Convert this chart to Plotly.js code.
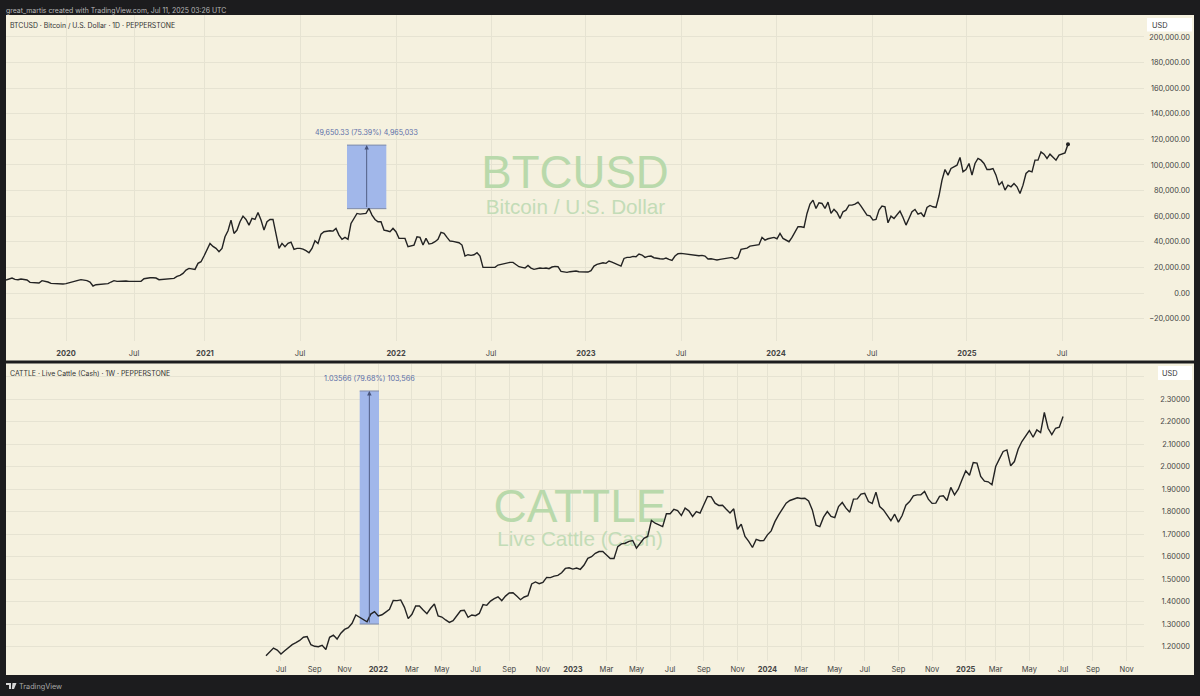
<!DOCTYPE html>
<html><head><meta charset="utf-8">
<script src="https://cdn.plot.ly/plotly-3.0.1.min.js"></script>
<style>html,body{margin:0;padding:0;background:#1c1c1e}#c{width:1200px;height:696px}</style>
</head><body><div id="c"></div>
<script>
// BTCUSD close, one reading per sample along the bar axis
const btcValues = [
10140,10900,11700,10660,10400,10900,10400,10140,8320,8060,
8060,7800,9620,9360,8580,7540,7280,7020,7020,7020,
7280,8060,8580,9360,9880,10400,10140,9620,8580,5460,
6500,6760,6760,7020,7280,8580,9620,9100,9360,9360,
9360,9100,9100,9100,9100,9100,11180,11700,11960,11960,
11700,10400,10660,10660,10900,10900,11440,12980,13800,15340,
17940,19240,19000,18460,23140,24440,28860,33540,38740,36400,
34840,32240,34840,43940,48620,56940,46540,49140,55640,60060,
57460,53040,58240,57460,62920,56940,49140,55640,57460,57460,
45240,34840,38740,36140,38740,39780,34060,34840,34840,34320,
33020,31460,34840,40820,38740,46020,47840,48340,48620,48340,
50440,45240,41860,43420,41860,54340,58240,62140,61620,62140,
62140,66040,60840,57460,55640,55640,49140,48620,47840,50440,
47840,42640,42640,42640,36140,36920,37440,43940,43420,37440,
42640,38220,38740,40040,41860,47320,46540,43420,40560,40300,
39520,39260,37440,28860,29900,29380,29900,31460,28860,20020,
20020,20020,20540,20020,21840,22360,23140,23140,23920,23920,
22100,20540,20020,19500,21580,19500,18460,19240,19500,19240,
19500,18980,20280,20800,20540,16900,16640,16120,16640,16900,
17160,16640,16640,16380,16380,17420,21060,22360,23140,23660,
23140,24960,24180,23140,22360,21060,27000,27820,27820,28600,
28340,30420,29640,27820,28600,28860,27560,27000,26780,26520,
27300,26260,25480,28860,30680,30940,30680,30420,29640,29380,
29120,29120,29380,28860,26520,26780,26260,25740,26260,26780,
27000,27300,27820,26520,27560,34060,34840,35100,36660,37180,
37440,37700,43420,41340,42380,42900,43420,42380,46540,42640,
41340,40040,43420,47060,51740,51740,51220,62140,69420,72540,
66040,70460,69940,66040,70980,62140,65260,62920,58240,63440,
64740,68640,68640,69420,70980,67860,64740,60840,60320,56940,
57460,64740,67860,67340,54860,60060,58240,60840,63960,59020,
53040,58240,63440,65260,61620,62660,59540,66820,68380,67340,
66820,75920,88140,96460,92040,97240,98540,99840,105820,94640,
96460,101140,92040,101140,105040,103740,101140,96460,96460,97240,
92040,84240,86840,80340,84240,82940,85540,82940,77740,84240,
93340,95420,94640,103740,103740,110240,108420,105040,108420,106340,
103740,107640,108420,109460,116220];
const btcTickPos = [20,42.67,66.33,98,130,161.67,193.33,225,256.67,288.67,320.33,352];
const btcTickText = ['<b>2020</b>','Jul','<b>2021</b>','Jul','<b>2022</b>','Jul','<b>2023</b>','Jul','<b>2024</b>','Jul','<b>2025</b>','Jul'];
const btcYTicks = [-20000,0,20000,40000,60000,80000,100000,120000,140000,160000,180000,200000];
const btcYText = ['\u221220,000.00','0.00','20,000.00','40,000.00','60,000.00','80,000.00','100,000.00','120,000.00','140,000.00','160,000.00','180,000.00','200,000.00'];

// CATTLE weekly close
const cattleValues = [
1.159,1.177,1.193,1.184,1.167,1.181,1.196,1.208,1.217,1.227,
1.241,1.244,1.208,1.201,1.199,1.205,1.187,1.241,1.251,1.233,
1.259,1.276,1.284,1.303,1.340,1.330,1.321,1.310,1.344,1.355,
1.336,1.341,1.353,1.365,1.405,1.404,1.407,1.374,1.324,1.343,
1.380,1.380,1.362,1.346,1.370,1.389,1.336,1.331,1.318,1.307,
1.315,1.336,1.359,1.361,1.330,1.340,1.337,1.347,1.386,1.383,
1.402,1.413,1.421,1.404,1.424,1.438,1.439,1.424,1.408,1.420,
1.426,1.478,1.487,1.479,1.485,1.507,1.506,1.513,1.516,1.528,
1.547,1.550,1.544,1.549,1.543,1.562,1.592,1.599,1.614,1.622,
1.622,1.607,1.591,1.591,1.644,1.656,1.659,1.667,1.671,1.637,
1.659,1.681,1.689,1.760,1.748,1.742,1.733,1.790,1.790,1.810,
1.804,1.782,1.815,1.803,1.778,1.800,1.793,1.830,1.867,1.865,
1.837,1.827,1.828,1.810,1.793,1.812,1.721,1.744,1.689,1.667,
1.640,1.676,1.670,1.671,1.696,1.714,1.755,1.785,1.810,1.837,
1.849,1.855,1.861,1.858,1.859,1.847,1.807,1.739,1.733,1.775,
1.800,1.778,1.773,1.822,1.840,1.815,1.797,1.855,1.856,1.877,
1.881,1.844,1.836,1.886,1.822,1.807,1.782,1.759,1.788,1.753,
1.782,1.828,1.844,1.870,1.874,1.874,1.889,1.855,1.836,1.837,
1.867,1.870,1.849,1.907,1.874,1.899,1.941,1.981,1.961,2.018,
2.015,1.956,1.935,1.932,1.919,2.000,2.034,2.067,2.074,2.003,
2.022,2.077,2.111,2.138,2.160,2.130,2.163,2.151,2.240,2.170,
2.142,2.170,2.175,2.222];
const cattleTickPos = [4,13,21,30,39,47,56,65,74,82,91,99,108,117,126,134,143,152,160,169,178,187,195,204,213,221,230];
const cattleTickText = ['Jul','Sep','Nov','<b>2022</b>','Mar','May','Jul','Sep','Nov','<b>2023</b>','Mar','May','Jul','Sep','Nov','<b>2024</b>','Mar','May','Jul','Sep','Nov','<b>2025</b>','Mar','May','Jul','Sep','Nov'];
const cattleYTicks = [1.2,1.3,1.4,1.5,1.6,1.7,1.8,1.9,2.0,2.1,2.2,2.3,2.4];
const cattleYText = ['1.20000','1.30000','1.40000','1.50000','1.60000','1.70000','1.80000','1.90000','2.00000','2.10000','2.20000','2.30000',''];

// measure tools
const btcMeasure = {from:65860, to:115510, x0:113.67, x1:126.77, label:'49,650.33 (75.39%) 4,965,033'};
const cattleMeasure = {from:1.2999, to:2.3356, x0:25.04, x1:30.2, label:'1.03566 (79.68%) 103,566'};

const DARK='#1c1c1e', CREAM='#f5f1df', GRID='#e6e3d2', BLUE='#a1b7ea', INK='#232323';
const FONT='Inter, "Noto Sans", sans-serif', WM='"Liberation Sans", Arial, sans-serif';
const W=1200,H=696,mL=6,mR=10,mT=15,mB=21,PW=W-mL-mR,PH=H-mT-mB;
const px=x=>(x-mL)/PW, py=y=>(H-mB-y)/PH;
const xDom=[0,px(1144)];

const idx=a=>a.map((_,i)=>i);
const traces=[
 {x:[(575-6)/3],y:[(293-177)*781],mode:'text',text:['BTCUSD'],textposition:'middle center',textfont:{family:WM,size:45.6,color:'#b9d9ab'},xaxis:'x',yaxis:'y',hoverinfo:'skip',cliponaxis:false},
 {x:[(575.5-6)/3],y:[(293-209)*781],mode:'text',text:['Bitcoin / U.S. Dollar'],textposition:'middle center',textfont:{family:WM,size:20.7,color:'#c3dcb7'},xaxis:'x',yaxis:'y',hoverinfo:'skip',cliponaxis:false},
 {x:[(580-266)/3.742],y:[1.2+(646.5-510)/225],mode:'text',text:['CATTLE'],textposition:'middle center',textfont:{family:WM,size:46,color:'#b9d9ab'},xaxis:'x2',yaxis:'y2',hoverinfo:'skip',cliponaxis:false},
 {x:[(580-266)/3.742],y:[1.2+(646.5-541)/225],mode:'text',text:['Live Cattle (Cash)'],textposition:'middle center',textfont:{family:WM,size:20.7,color:'#c3dcb7'},xaxis:'x2',yaxis:'y2',hoverinfo:'skip',cliponaxis:false},
 {x:idx(btcValues),y:btcValues,mode:'lines',line:{color:INK,width:1.4},xaxis:'x',yaxis:'y',hoverinfo:'skip'},
 {x:[btcValues.length-1],y:[btcValues[btcValues.length-1]],mode:'markers',marker:{color:INK,size:4},xaxis:'x',yaxis:'y',hoverinfo:'skip'},
 {x:idx(cattleValues),y:cattleValues,mode:'lines',line:{color:INK,width:1.4},xaxis:'x2',yaxis:'y2',hoverinfo:'skip'}
];
const xBase={showline:false,zeroline:false,showgrid:true,gridcolor:GRID,gridwidth:1,tickmode:'array',ticks:'outside',ticklen:5,tickcolor:'rgba(0,0,0,0)',tickfont:{family:FONT,size:7.5,color:'#444'},fixedrange:true};
const yBase={showline:false,zeroline:false,showgrid:true,gridcolor:GRID,gridwidth:1,tickmode:'array',anchor:'free',position:1,side:'left',ticks:'',tickfont:{family:FONT,size:7.4,color:'#444'},fixedrange:true};
const measureRect=(m,xr,yr)=>({type:'rect',xref:xr,yref:yr,x0:m.x0,x1:m.x1,y0:m.from,y1:m.to,fillcolor:BLUE,line:{width:0},layer:'between'});
const measureEdge=(m,xr,yr,v)=>({type:'line',xref:xr,yref:yr,x0:m.x0,x1:m.x1,y0:v,y1:v,line:{color:'#7f8ba8',width:1},layer:'between'});
function txt(x,y,t,anchor,size,color){return {xref:'paper',yref:'paper',x:px(x),y:py(y),text:t,showarrow:false,xanchor:anchor,yanchor:'middle',xshift:0,font:{family:FONT,size:size,color:color},borderpad:0,borderwidth:0}}
const layout={
 width:W,height:H,margin:{l:mL,r:mR,t:mT,b:mB,pad:0},paper_bgcolor:DARK,plot_bgcolor:'rgba(0,0,0,0)',showlegend:false,
 font:{family:FONT},
 xaxis:Object.assign({},xBase,{domain:xDom,range:[0,(1144-6)/3],tickvals:btcTickPos,ticktext:btcTickText,anchor:'y'}),
 yaxis:Object.assign({},yBase,{domain:[py(341),1],range:[(293-341)*781,(293-15)*781],tickvals:btcYTicks,ticktext:btcYText}),
 xaxis2:Object.assign({},xBase,{ticklen:1,domain:xDom,range:[(6-266)/3.742,(1144-266)/3.742],tickvals:cattleTickPos,ticktext:cattleTickText,anchor:'y2'}),
 yaxis2:Object.assign({},yBase,{domain:[py(661),py(363.5)],range:[1.2+(646.5-661)/225,1.2+(646.5-363.5)/225],tickvals:cattleYTicks,ticktext:cattleYText}),
 shapes:[
  {type:'rect',xref:'paper',yref:'paper',x0:px(6),x1:px(1194),y0:py(360.5),y1:py(15),fillcolor:CREAM,line:{width:0},layer:'below'},
  {type:'rect',xref:'paper',yref:'paper',x0:px(6),x1:px(1194),y0:py(675),y1:py(363.5),fillcolor:CREAM,line:{width:0},layer:'below'},
  measureRect(btcMeasure,'x','y'),measureEdge(btcMeasure,'x','y',btcMeasure.from),measureEdge(btcMeasure,'x','y',btcMeasure.to),
  measureRect(cattleMeasure,'x2','y2'),measureEdge(cattleMeasure,'x2','y2',cattleMeasure.from),measureEdge(cattleMeasure,'x2','y2',cattleMeasure.to),
  {type:'rect',xref:'paper',yref:'paper',x0:px(1147),x1:px(1192),y0:py(31.5),y1:py(18),fillcolor:'#ffffff',line:{width:0},layer:'above'},
  {type:'rect',xref:'paper',yref:'paper',x0:px(1158),x1:px(1192),y0:py(380),y1:py(366),fillcolor:'#ffffff',line:{width:0},layer:'above'},
  {type:'path',xref:'paper',yref:'paper',path:`M ${px(6)} ${py(683)} H ${px(11)} V ${py(689)} H ${px(9)} V ${py(685)} H ${px(6)} Z`,fillcolor:'#d8d8d8',line:{width:0},layer:'above'},
  {type:'path',xref:'paper',yref:'paper',path:`M ${px(12.5)} ${py(683)} H ${px(16.5)} L ${px(14)} ${py(689)} H ${px(11.8)} Z`,fillcolor:'#d8d8d8',line:{width:0},layer:'above'}
 ],
 annotations:[
  txt(6,10,'great_martis created with TradingView.com, Jul 11, 2025 03:26 UTC','left',6.9,'#b9b9b9'),
  txt(10,25.5,'BTCUSD · Bitcoin / U.S. Dollar · 1D · PEPPERSTONE','left',6.9,'#333'),
  txt(10,373.5,'CATTLE · Live Cattle (Cash) · 1W · PEPPERSTONE','left',6.9,'#333'),
  txt(366.5,132.5,btcMeasure.label,'center',7.05,'#5c6fa8'),
  txt(369,378.5,cattleMeasure.label,'center',7.3,'#5c6fa8'),
  txt(1152,25.5,'USD','left',7.4,'#333'),
  txt(1162,373.5,'USD','left',7.4,'#333'),
  txt(19,686,'TradingView','left',7.3,'#a8a8a8'),
  {xref:'x',yref:'y',axref:'x',ayref:'y',x:(btcMeasure.x0+btcMeasure.x1)/2,y:btcMeasure.to,ax:(btcMeasure.x0+btcMeasure.x1)/2,ay:btcMeasure.from,text:'',showarrow:true,arrowhead:2,arrowsize:1,arrowwidth:0.9,arrowcolor:'#47537a'},
  {xref:'x2',yref:'y2',axref:'x2',ayref:'y2',x:(cattleMeasure.x0+cattleMeasure.x1)/2,y:cattleMeasure.to,ax:(cattleMeasure.x0+cattleMeasure.x1)/2,ay:cattleMeasure.from,text:'',showarrow:true,arrowhead:2,arrowsize:1,arrowwidth:0.9,arrowcolor:'#47537a'}
 ]
};
Plotly.newPlot('c',traces,layout,{staticPlot:true,displayModeBar:false});
</script></body></html>
